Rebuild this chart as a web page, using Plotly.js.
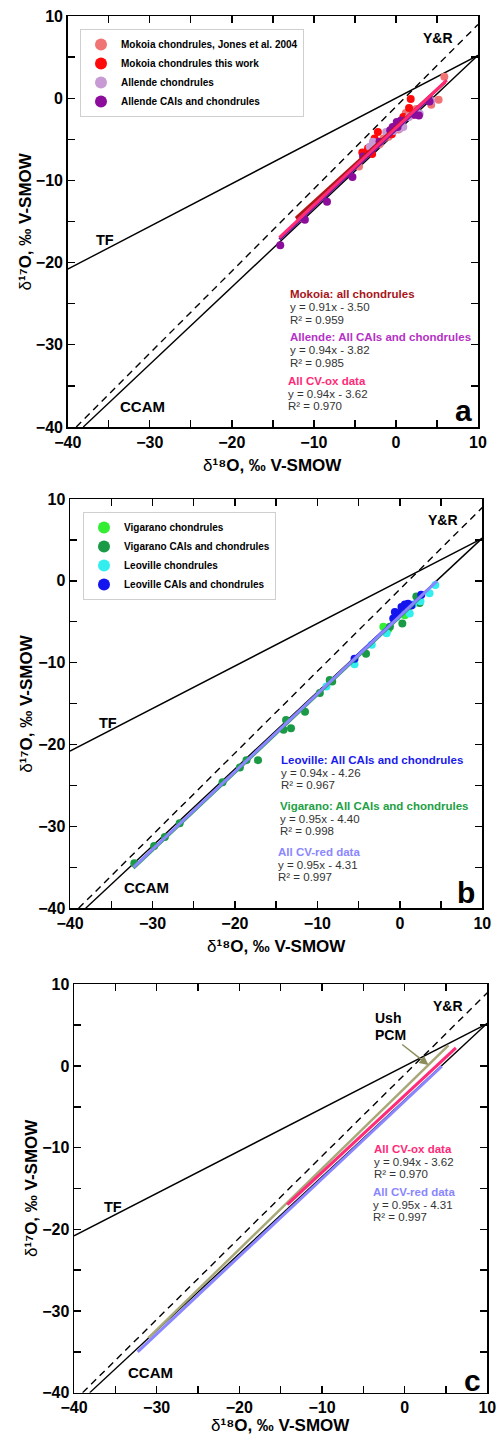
<!DOCTYPE html>
<html>
<head>
<meta charset="utf-8">
<script src="https://cdn.plot.ly/plotly-3.0.1.min.js"></script>
<style>html,body{margin:0;padding:0;background:#fff}#chart{width:499px;height:1437px}</style>
</head>
<body>
<div id="chart"></div>
<script>
// ---------- DATA ----------
// Panel a: CV-oxidized
const mokoiaJonesX = [5.9, 5.2, 4.3, 1.2, 2.5, -0.9, -1.5, -3.0, -4.5, -11.7, 0.3, -2.0];
const mokoiaJonesY = [2.6, -0.2, -0.8, -1.8, -1.3, -4.7, -4.9, -6.3, -8.3, -14.6, -3.8, -5.6];
const mokoiaThisX = [1.8, 1.6, 2.1, -0.5, -2.2, -2.6, -4.1, -2.9, -1.0, 0.9, -3.4];
const mokoiaThisY = [-0.1, -1.2, -2.0, -4.4, -4.1, -4.9, -6.6, -6.8, -4.3, -2.3, -6.1];
const allendeChX = [4.3, 0.9, 0.5, -2.8, -3.2, -1.2, 1.6, -0.3, 2.9];
const allendeChY = [-0.3, -3.5, -3.7, -5.3, -5.9, -4.1, -2.3, -4.0, -1.9];
const allendeCaiX = [-14.1, -11.1, -8.4, -5.3, -4.0, 0.1, 0.6, 2.3, 2.8, 4.1, 0.2, -0.7, -2.0, -0.4];
const allendeCaiY = [-17.9, -14.8, -12.6, -9.6, -7.1, -2.9, -2.7, -2.0, -2.1, -0.4, -3.5, -3.9, -5.3, -3.5];

// Panel b: CV-reduced
const vigChX = [-2.0, 0.4, 0.6, 1.0, -1.4];
const vigChY = [-5.6, -3.4, -4.2, -3.8, -5.9];
const vigCaiX = [-32.2, -29.8, -28.5, -26.7, -21.5, -19.4, -18.6, -17.2, -14.1, -13.8, -13.2, -11.5, -9.7, -8.5, -4.1, 0.3, 2.0, 2.4, -1.2, -8.2];
const vigCaiY = [-34.5, -32.4, -31.3, -29.6, -24.6, -22.8, -21.9, -21.9, -18.2, -17.0, -18.0, -16.0, -13.7, -12.1, -8.9, -5.2, -1.9, -2.7, -5.6, -12.3];
const leoChX = [4.3, 3.6, 2.5, 1.6, -1.6, -3.4, -5.5, -8.9, -0.4, 1.2];
const leoChY = [-0.5, -1.5, -2.5, -2.9, -6.4, -7.8, -10.2, -12.9, -4.4, -4.0];
const leoCaiX = [-5.5, 2.6, -0.8, -0.2, 0.2, 0.6, 1.0, -0.6, 1.4];
const leoCaiY = [-9.5, -1.7, -4.6, -4.0, -3.2, -2.9, -2.8, -3.8, -3.0];

// Reference lines: TF, CCAM, Y&R
const refNames = ['TF', 'CCAM', 'Y&R'];
const refSlope = [0.52, 0.94, 1.0];
const refIntercept = [0, -4.18, -1.04];
const refXmin = [-40, -38.1, -38.96];
const refXmax = [10, 10, 10];

// Regression fits
const fitNames = ['Allende', 'Mokoia', 'CV-ox', 'Leoville', 'Vigarano', 'CV-red', 'Ush PCM'];
const fitSlope = [0.94, 0.91, 0.94, 0.94, 0.95, 0.95, 0.987];
const fitIntercept = [-3.82, -3.50, -3.62, -4.26, -4.40, -4.31, -2.70];
const fitXmin = [-14.2, -12.2, -14.2, -5.5, -32.3, -32.3, -31.0];
const fitXmax = [4.4, 6.0, 6.2, 2.8, 2.5, 4.5, 5.3];

const axisRange = [-40, 10];
const majorStep = 10, minorStep = 5;

// ---------- STYLE ----------
const FONT = 'Arial, "Liberation Sans", sans-serif';
const W = 499, H = 1437;
const fx = p => p / W, fy = p => 1 - p / H;
const panels = [
  {x0: 67.7, x1: 478, y0: 16, y1: 427, ytx: 25, xty: 38},
  {x0: 70, x1: 482.3, y0: 499, y1: 908.3, ytx: 27, xty: 38},
  {x0: 74, x1: 487.3, y0: 984.3, y1: 1392.7, ytx: 31.5, xty: 33}
];
const sfx = ['', '2', '3'];

const traces = [];
function refLines(k) {
  for (let i = 0; i < refNames.length; i++) {
    const xs = [refXmin[i], refXmax[i]];
    traces.push({
      x: xs, y: xs.map(v => refSlope[i] * v + refIntercept[i]),
      mode: 'lines', xaxis: 'x' + sfx[k], yaxis: 'y' + sfx[k], showlegend: false, hoverinfo: 'skip',
      line: {color: '#000', width: 1.4, dash: refNames[i] === 'Y&R' ? '7px,5px' : 'solid'}
    });
  }
}
function fit(k, i, color, width) {
  const xs = [fitXmin[i], fitXmax[i]];
  traces.push({
    x: xs, y: xs.map(v => fitSlope[i] * v + fitIntercept[i]),
    mode: 'lines', xaxis: 'x' + sfx[k], yaxis: 'y' + sfx[k], showlegend: false, hoverinfo: 'skip',
    line: {color: color, width: width || 3}
  });
}
function pts(k, name, xs, ys, color, legend) {
  traces.push({
    x: xs, y: ys, name: name, mode: 'markers', xaxis: 'x' + sfx[k], yaxis: 'y' + sfx[k],
    legend: legend, marker: {color: color, size: 8, line: {width: 0}}
  });
}

// Panel a
refLines(0);
pts(0, 'Mokoia chondrules, Jones et al. 2004', mokoiaJonesX, mokoiaJonesY, '#f07474', 'legend');
pts(0, 'Mokoia chondrules this work', mokoiaThisX, mokoiaThisY, '#ff0a0a', 'legend');
pts(0, 'Allende chondrules', allendeChX, allendeChY, '#c89ad4', 'legend');
pts(0, 'Allende CAIs and chondrules', allendeCaiX, allendeCaiY, '#8c0c9c', 'legend');
fit(0, 0, '#6a1aa0', 3);
fit(0, 1, '#b01818', 3);
fit(0, 2, '#ff2a78', 3);

// Panel b
refLines(1);
pts(1, 'Vigarano chondrules', vigChX, vigChY, '#33ee33', 'legend2');
pts(1, 'Vigarano CAIs and chondrules', vigCaiX, vigCaiY, '#1b9a45', 'legend2');
pts(1, 'Leoville chondrules', leoChX, leoChY, '#33eeee', 'legend2');
pts(1, 'Leoville CAIs and chondrules', leoCaiX, leoCaiY, '#1414ee', 'legend2');
fit(1, 4, '#1b9a45', 3);
fit(1, 3, '#2a2aee', 3);
fit(1, 5, '#8a86ff', 3);

// Panel c
refLines(2);
fit(2, 6, '#a8a878', 2.5);
fit(2, 2, '#ff2a78', 3);
fit(2, 5, '#8a86ff', 3);

// ---------- LAYOUT ----------
const layout = {
  width: W, height: H, margin: {l: 0, r: 0, t: 0, b: 0},
  paper_bgcolor: '#fff', plot_bgcolor: '#fff',
  font: {family: FONT, color: '#000'},
  annotations: [], shapes: []
};
const xTitle = '<span style="font-weight:normal">δ</span><b>¹⁸O, ‰ V-SMOW</b>';
const yTitle = '<span style="font-weight:normal">δ</span><b>¹⁷O, ‰ V-SMOW</b>';
panels.forEach((p, k) => {
  const common = {
    range: axisRange, tick0: -40, dtick: majorStep, ticks: 'inside', ticklen: 7, tickwidth: 1.4,
    tickcolor: '#000', showline: true, linecolor: '#000', linewidth: 1.5, mirror: 'allticks',
    minor: {dtick: minorStep, tick0: -40, ticks: 'inside', ticklen: 7, tickwidth: 1.4, tickcolor: '#000', showgrid: false},
    showgrid: false, zeroline: false, fixedrange: true,
    tickfont: {family: FONT, size: 16, weight: 'bold', color: '#000'}
  };
  layout['xaxis' + sfx[k]] = Object.assign({}, common, {domain: [fx(p.x0), fx(p.x1)], anchor: 'y' + sfx[k]});
  layout['yaxis' + sfx[k]] = Object.assign({}, common, {domain: [fy(p.y1), fy(p.y0)], anchor: 'x' + sfx[k]});
  // axis titles
  layout.annotations.push({
    xref: 'paper', yref: 'paper', x: fx((p.x0 + p.x1) / 2), y: fy(p.y1 + p.xty), text: xTitle,
    showarrow: false, xanchor: 'center', yanchor: 'middle', font: {family: FONT, size: 17, color: '#000'}
  });
  layout.annotations.push({
    xref: 'paper', yref: 'paper', x: fx(p.ytx), y: fy((p.y0 + p.y1) / 2), text: yTitle, textangle: -90,
    showarrow: false, xanchor: 'center', yanchor: 'middle', font: {family: FONT, size: 17, color: '#000'}
  });
});

const legendStyle = {
  bgcolor: '#fff', bordercolor: '#cfcfcf', borderwidth: 1, xanchor: 'left', yanchor: 'top',
  font: {family: FONT, size: 10, weight: 'bold', color: '#000'}, tracegroupgap: 0, itemsizing: 'constant'
};
layout.legend = Object.assign({}, legendStyle, {x: fx(80), y: fy(29)});
layout.legend2 = Object.assign({}, legendStyle, {x: fx(83), y: fy(512)});

function T(xp, yp, text, size, color, bold, anchor) {
  layout.annotations.push({
    xref: 'paper', yref: 'paper', x: fx(xp), y: fy(yp), text: bold ? '<b>' + text + '</b>' : text,
    showarrow: false, xanchor: anchor || 'left', yanchor: 'middle',
    font: {family: FONT, size: size, color: color}
  });
}
const HB = 11.5, HR = 11.5;
// Panel a labels
T(438, 38, 'Y&R', 14, '#000', true, 'center');
T(105, 240, 'TF', 14.5, '#000', true, 'center');
T(142, 406, 'CCAM', 15, '#000', true, 'center');
T(463, 411, 'a', 30, '#000', true, 'center');
T(288, 294, 'Mokoia: all chondrules', HB, '#a8141a', true);
T(288, 307, 'y = 0.91x - 3.50', HR, '#333', false);
T(288, 319.5, 'R² = 0.959', HR, '#333', false);
T(288, 337, 'Allende: All CAIs and chondrules', HB, '#b432c4', true);
T(288, 350, 'y = 0.94x - 3.82', HR, '#333', false);
T(288, 362.5, 'R² = 0.985', HR, '#333', false);
T(286, 381, 'All CV-ox data', HB, '#ff2a78', true);
T(286, 394, 'y = 0.94x - 3.62', HR, '#333', false);
T(286, 406.5, 'R² = 0.970', HR, '#333', false);
// Panel b labels
T(443, 520, 'Y&R', 14, '#000', true, 'center');
T(108, 723, 'TF', 14.5, '#000', true, 'center');
T(146, 888, 'CCAM', 15, '#000', true, 'center');
T(466, 893, 'b', 30, '#000', true, 'center');
T(279, 760, 'Leoville: All CAIs and chondrules', HB, '#1a1aee', true);
T(279, 772.5, 'y = 0.94x - 4.26', HR, '#333', false);
T(279, 784.5, 'R² = 0.967', HR, '#333', false);
T(278, 806, 'Vigarano: All CAIs and chondrules', HB, '#22a044', true);
T(278, 818.5, 'y = 0.95x - 4.40', HR, '#333', false);
T(278, 830.5, 'R² = 0.998', HR, '#333', false);
T(276, 852, 'All CV-red data', HB, '#8a86ff', true);
T(276, 864.5, 'y = 0.95x - 4.31', HR, '#333', false);
T(276, 876.5, 'R² = 0.997', HR, '#333', false);
// Panel c labels
T(448, 1006, 'Y&R', 14, '#000', true, 'center');
T(113, 1207, 'TF', 14.5, '#000', true, 'center');
T(150, 1372, 'CCAM', 15, '#000', true, 'center');
T(472, 1380, 'c', 30, '#000', true, 'center');
T(373, 1018, 'Ush', 14, '#000', true);
T(372, 1149, 'All CV-ox data', HB, '#ff2a78', true);
T(372, 1161.5, 'y = 0.94x - 3.62', HR, '#333', false);
T(372, 1173.5, 'R² = 0.970', HR, '#333', false);
T(371, 1192, 'All CV-red data', HB, '#8a86ff', true);
T(371, 1204.5, 'y = 0.95x - 4.31', HR, '#333', false);
T(371, 1216.5, 'R² = 0.997', HR, '#333', false);
// "PCM" label carrying the arrow to the Ush PCM line
layout.annotations.push({
  xref: 'paper', yref: 'paper', axref: 'pixel', ayref: 'pixel',
  x: fx(428.5), y: fy(1065), ax: 390 - 428.5, ay: 1035 - 1065,
  text: '<b>PCM</b>', font: {family: FONT, size: 14, color: '#000'},
  showarrow: true, arrowhead: 2, arrowsize: 1.2, arrowwidth: 1.5, arrowcolor: '#8c8c5a',
  standoff: 0, startstandoff: 0
});

Plotly.newPlot('chart', traces, layout, {displayModeBar: false, staticPlot: true});
</script>
</body>
</html>
